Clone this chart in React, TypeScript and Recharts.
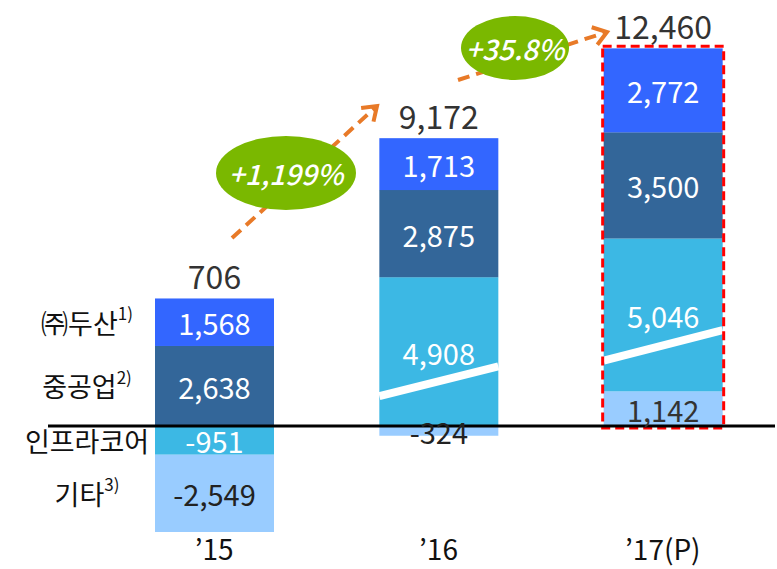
import React from "react";
import { BarChart, Bar, XAxis, YAxis, ReferenceLine, LabelList } from "recharts";

const years = ["’15", "’16", "’17(P)"];
const doosan = [1568, 1713, 2772];
const heavy = [2638, 2875, 3500];
const infracore = [-951, 4908, 5046];
const others = [-2549, -324, 1142];
const totals = [706, 9172, 12460];
const seriesNames = ["㈜두산", "중공업", "인프라코어", "기타"];
const footnotes = ["1)", "2)", "", "3)"];
const growthLabels = ["+1,199%", "+35.8%"];
// bars drawn with a broken-axis slash
const brokenBars = [false, true, true];

const chartData = years.map((year, i) => ({
  year,
  othersPos: others[i] > 0 ? others[i] : 0,
  infracore: infracore[i],
  heavy: heavy[i],
  doosan: doosan[i],
  othersNeg: others[i] < 0 ? others[i] : 0,
}));

const FONT = '"Noto Sans CJK KR", "Noto Sans", sans-serif';
const ORANGE = "#e87a28";

const fmt = (v: number) => v.toLocaleString("en-US");

const segmentLabel = (color: string) => (props: any) => {
  const { x, y, width, height, value } = props;
  if (!value) return null;
  return (
    <text
      x={x + width / 2}
      y={y + height / 2}
      fill={color}
      fontSize={29}
      fontFamily={FONT}
      textAnchor="middle"
      dominantBaseline="central"
    >
      {fmt(Number(value))}
    </text>
  );
};

const nameLabel = (s: number) => (props: any) => {
  const { x, y, height, value, index } = props;
  if (index !== 0 || !value) return null;
  return (
    <text
      x={x - 68}
      y={y + height / 2}
      fill="#111"
      fontSize={27}
      fontFamily={FONT}
      textAnchor="middle"
      dominantBaseline="central"
    >
      {seriesNames[s]}
      {footnotes[s] && (
        <tspan fontSize={17} dy={-10}>
          {footnotes[s]}
        </tspan>
      )}
    </text>
  );
};

const totalLabel = (props: any) => {
  const { x, y, width, height, index } = props;
  const top = Math.min(y, y + height);
  return (
    <text
      x={x + width / 2}
      y={top - 23}
      fill="#333"
      fontSize={32}
      fontFamily={FONT}
      textAnchor="middle"
      dominantBaseline="central"
    >
      {fmt(totals[index])}
    </text>
  );
};

const InfraShape = (props: any) => {
  const { x, y, width, height, fill, index } = props;
  const top = Math.min(y, y + height);
  const h = Math.abs(height);
  return (
    <g>
      <rect x={x} y={top} width={width} height={h} fill={fill} />
      {brokenBars[index] && (
        <line
          x1={x}
          y1={top + h * 0.8}
          x2={x + width}
          y2={top + h * 0.6}
          stroke="#fff"
          strokeWidth={8}
        />
      )}
    </g>
  );
};

// top segment; the last bar also gets the red dashed frame down to zero
const DoosanShape = (props: any) => {
  const { x, y, width, height, fill, index, payload } = props;
  const top = Math.min(y, y + height);
  const h = Math.abs(height);
  let frame = null;
  if (index === years.length - 1) {
    const ppu = h / payload.doosan;
    const pos = payload.othersPos + Math.max(payload.infracore, 0) + payload.heavy + payload.doosan;
    const zeroY = top + pos * ppu;
    frame = (
      <rect
        x={x - 1}
        y={top - 2}
        width={width + 2}
        height={zeroY - top + 4}
        fill="none"
        stroke="#ff0000"
        strokeWidth={3}
        strokeDasharray="9 5"
      />
    );
  }
  return (
    <g>
      <rect x={x} y={top} width={width} height={h} fill={fill} />
      {frame}
    </g>
  );
};

const CategoryTick = (props: any) => {
  const { x, y, payload } = props;
  return (
    <text
      x={x}
      y={y + 13}
      fill="#111"
      fontSize={28}
      fontFamily={FONT}
      textAnchor="middle"
      dominantBaseline="central"
    >
      {payload.value}
    </text>
  );
};

function Arrow({ x1, y1, x2, y2 }: { x1: number; y1: number; x2: number; y2: number }) {
  const dx = x2 - x1;
  const dy = y2 - y1;
  const len = Math.sqrt(dx * dx + dy * dy);
  const ux = dx / len;
  const uy = dy / len;
  const head = 16;
  const a = (35 * Math.PI) / 180;
  const p1x = x2 - head * (ux * Math.cos(a) - uy * Math.sin(a));
  const p1y = y2 - head * (uy * Math.cos(a) + ux * Math.sin(a));
  const p2x = x2 - head * (ux * Math.cos(a) + uy * Math.sin(a));
  const p2y = y2 - head * (uy * Math.cos(a) - ux * Math.sin(a));
  return (
    <g>
      <line x1={x1} y1={y1} x2={x2 - ux * 3} y2={y2 - uy * 3} stroke={ORANGE} strokeWidth={4} strokeDasharray="12 7" />
      <polyline points={`${p1x},${p1y} ${x2},${y2} ${p2x},${p2y}`} fill="none" stroke={ORANGE} strokeWidth={4} />
    </g>
  );
}

export default function App() {
  return (
    <div style={{ position: "relative", width: 777, height: 569 }}>
      <style>{"body{margin:0}"}</style>
      <BarChart
        width={777}
        height={569}
        data={chartData}
        stackOffset="sign"
        margin={{ top: 32, right: 2, bottom: 0, left: 48 }}
      >
        <XAxis
          dataKey="year"
          axisLine={false}
          tickLine={false}
          tickSize={0}
          tickMargin={0}
          height={34}
          padding={{ left: 54, right: 0 }}
          tick={<CategoryTick />}
        />
        <YAxis hide domain={[-3600, 13000]} allowDataOverflow />
        <Bar dataKey="othersPos" stackId="a" fill="#99ccff" barSize={119} isAnimationActive={false}>
          <LabelList dataKey="othersPos" content={segmentLabel("#333")} />
        </Bar>
        <Bar dataKey="infracore" stackId="a" fill="#3cb8e4" barSize={119} shape={<InfraShape />} isAnimationActive={false}>
          <LabelList dataKey="infracore" content={segmentLabel("#fff")} />
          <LabelList dataKey="infracore" content={nameLabel(2)} />
        </Bar>
        <Bar dataKey="heavy" stackId="a" fill="#336699" barSize={119} isAnimationActive={false}>
          <LabelList dataKey="heavy" content={segmentLabel("#fff")} />
          <LabelList dataKey="heavy" content={nameLabel(1)} />
        </Bar>
        <Bar dataKey="doosan" stackId="a" fill="#3366ff" barSize={119} shape={<DoosanShape />} isAnimationActive={false}>
          <LabelList dataKey="doosan" content={segmentLabel("#fff")} />
          <LabelList dataKey="doosan" content={nameLabel(0)} />
          <LabelList dataKey="doosan" content={totalLabel} />
        </Bar>
        <Bar dataKey="othersNeg" stackId="a" fill="#99ccff" barSize={119} isAnimationActive={false}>
          <LabelList dataKey="othersNeg" content={segmentLabel("#222")} />
          <LabelList dataKey="othersNeg" content={nameLabel(3)} />
        </Bar>
        <ReferenceLine y={0} stroke="#000" strokeWidth={3} />
      </BarChart>
      <svg
        width={777}
        height={569}
        style={{ position: "absolute", left: 0, top: 0, pointerEvents: "none" }}
      >
        <Arrow x1={232} y1={238} x2={377} y2={106} />
        <Arrow x1={458} y1={80} x2={607} y2={32} />
        <ellipse cx={286} cy={173} rx={70} ry={37} fill="#7ab800" />
        <ellipse cx={515} cy={48} rx={54} ry={32} fill="#7ab800" />
        <text x={286} y={173} fill="#fff" fontSize={28} fontStyle="italic" fontWeight={500} fontFamily={FONT} textAnchor="middle" dominantBaseline="central">
          {growthLabels[0]}
        </text>
        <text x={515} y={48} fill="#fff" fontSize={28} fontStyle="italic" fontWeight={500} fontFamily={FONT} textAnchor="middle" dominantBaseline="central">
          {growthLabels[1]}
        </text>
      </svg>
    </div>
  );
}
